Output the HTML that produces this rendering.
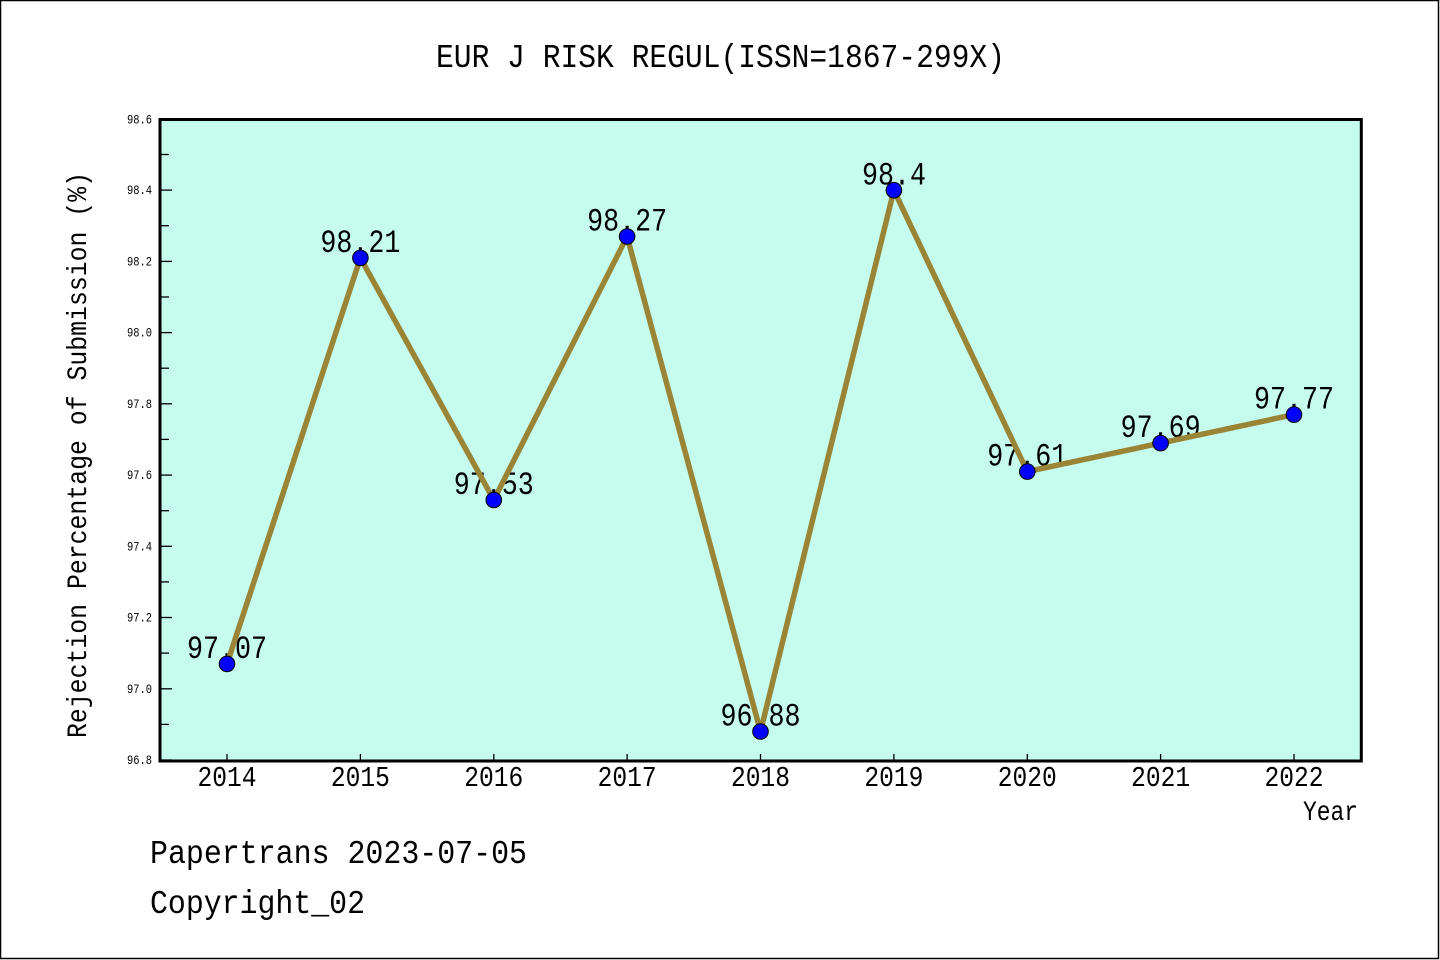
<!DOCTYPE html>
<html>
<head>
<meta charset="utf-8">
<style>
html,body{margin:0;padding:0;background:#fff;}
svg{display:block;}
text{font-family:"Liberation Mono","Noto Sans CJK SC",monospace;fill:#000;}
</style>
</head>
<body>
<svg width="1440" height="960" viewBox="0 0 1440 960" xmlns="http://www.w3.org/2000/svg">
<rect x="0.5" y="0.5" width="1438" height="958" fill="#fff" stroke="#000" stroke-width="1.5"/>
<!-- title -->
<text x="436" y="67" font-size="33" textLength="569" lengthAdjust="spacingAndGlyphs">EUR J RISK REGUL(ISSN=1867-299X)</text>
<!-- plot bg -->
<rect x="160" y="119.5" width="1201.3" height="641.5" fill="#c6fced"/>
<!-- y ticks -->
<g stroke="#000" stroke-width="1.3">
<line x1="160" y1="760" x2="172" y2="760"/>
<line x1="160" y1="724.4" x2="169" y2="724.4"/>
<line x1="160" y1="688.8" x2="172" y2="688.8"/>
<line x1="160" y1="653.1" x2="169" y2="653.1"/>
<line x1="160" y1="617.5" x2="172" y2="617.5"/>
<line x1="160" y1="581.9" x2="169" y2="581.9"/>
<line x1="160" y1="546.3" x2="172" y2="546.3"/>
<line x1="160" y1="510.7" x2="169" y2="510.7"/>
<line x1="160" y1="475.1" x2="172" y2="475.1"/>
<line x1="160" y1="439.4" x2="169" y2="439.4"/>
<line x1="160" y1="403.8" x2="172" y2="403.8"/>
<line x1="160" y1="368.2" x2="169" y2="368.2"/>
<line x1="160" y1="332.6" x2="172" y2="332.6"/>
<line x1="160" y1="297.0" x2="169" y2="297.0"/>
<line x1="160" y1="261.4" x2="172" y2="261.4"/>
<line x1="160" y1="225.7" x2="169" y2="225.7"/>
<line x1="160" y1="190.1" x2="172" y2="190.1"/>
<line x1="160" y1="154.5" x2="169" y2="154.5"/>
<line x1="160" y1="119.5" x2="172" y2="119.5"/>
</g>
<!-- x ticks -->
<g stroke="#000" stroke-width="1.3">
<line x1="227" y1="761" x2="227" y2="754"/>
<line x1="360.4" y1="761" x2="360.4" y2="754"/>
<line x1="493.8" y1="761" x2="493.8" y2="754"/>
<line x1="627.1" y1="761" x2="627.1" y2="754"/>
<line x1="760.5" y1="761" x2="760.5" y2="754"/>
<line x1="893.9" y1="761" x2="893.9" y2="754"/>
<line x1="1027.3" y1="761" x2="1027.3" y2="754"/>
<line x1="1160.6" y1="761" x2="1160.6" y2="754"/>
<line x1="1294" y1="761" x2="1294" y2="754"/>
</g>
<!-- frame -->
<rect x="160" y="119.5" width="1201.3" height="641.5" fill="none" stroke="#000" stroke-width="3"/>
<!-- y tick labels -->
<g font-size="12.5">
<text x="127" y="764" textLength="25" lengthAdjust="spacingAndGlyphs">96.8</text>
<text x="127" y="692.8" textLength="25" lengthAdjust="spacingAndGlyphs">97.0</text>
<text x="127" y="621.5" textLength="25" lengthAdjust="spacingAndGlyphs">97.2</text>
<text x="127" y="550.3" textLength="25" lengthAdjust="spacingAndGlyphs">97.4</text>
<text x="127" y="479.1" textLength="25" lengthAdjust="spacingAndGlyphs">97.6</text>
<text x="127" y="407.8" textLength="25" lengthAdjust="spacingAndGlyphs">97.8</text>
<text x="127" y="336.6" textLength="25" lengthAdjust="spacingAndGlyphs">98.0</text>
<text x="127" y="265.4" textLength="25" lengthAdjust="spacingAndGlyphs">98.2</text>
<text x="127" y="194.1" textLength="25" lengthAdjust="spacingAndGlyphs">98.4</text>
<text x="127" y="123.5" textLength="25" lengthAdjust="spacingAndGlyphs">98.6</text>
</g>
<!-- x tick labels -->
<g font-size="29">
<text x="197.5" y="786" textLength="59" lengthAdjust="spacingAndGlyphs">2014</text>
<text x="330.9" y="786" textLength="59" lengthAdjust="spacingAndGlyphs">2015</text>
<text x="464.3" y="786" textLength="59" lengthAdjust="spacingAndGlyphs">2016</text>
<text x="597.6" y="786" textLength="59" lengthAdjust="spacingAndGlyphs">2017</text>
<text x="731" y="786" textLength="59" lengthAdjust="spacingAndGlyphs">2018</text>
<text x="864.4" y="786" textLength="59" lengthAdjust="spacingAndGlyphs">2019</text>
<text x="997.8" y="786" textLength="59" lengthAdjust="spacingAndGlyphs">2020</text>
<text x="1131.1" y="786" textLength="59" lengthAdjust="spacingAndGlyphs">2021</text>
<text x="1264.5" y="786" textLength="59" lengthAdjust="spacingAndGlyphs">2022</text>
</g>
<text x="1303" y="820" font-size="28" textLength="55" lengthAdjust="spacingAndGlyphs">Year</text>
<!-- y label -->
<text transform="translate(86,455) rotate(-90)" x="-283" y="0" font-size="28" textLength="566" lengthAdjust="spacingAndGlyphs">Rejection Percentage of Submission (%)</text>
<!-- data labels -->
<g font-size="32">
<text x="187" y="658" textLength="80" lengthAdjust="spacingAndGlyphs">97.07</text>
<text x="320.4" y="252" textLength="80" lengthAdjust="spacingAndGlyphs">98.21</text>
<text x="453.8" y="494" textLength="80" lengthAdjust="spacingAndGlyphs">97.53</text>
<text x="587.1" y="230.5" textLength="80" lengthAdjust="spacingAndGlyphs">98.27</text>
<text x="720.5" y="725.5" textLength="80" lengthAdjust="spacingAndGlyphs">96.88</text>
<text x="862" y="184.5" textLength="64" lengthAdjust="spacingAndGlyphs">98.4</text>
<text x="987.3" y="465.5" textLength="80" lengthAdjust="spacingAndGlyphs">97.61</text>
<text x="1120.6" y="437" textLength="80" lengthAdjust="spacingAndGlyphs">97.69</text>
<text x="1254" y="408.5" textLength="80" lengthAdjust="spacingAndGlyphs">97.77</text>
</g>
<!-- line -->
<polyline fill="none" stroke="#9a8436" stroke-width="5.5" stroke-linejoin="miter"
points="227,663.9 360.4,257.9 493.8,500 627.1,236.5 760.5,731.5 893.9,190.2 1027.3,471.6 1160.6,443.1 1294,414.6"/>
<!-- markers -->
<g fill="#0000ff" stroke="#000" stroke-width="1">
<circle cx="227" cy="663.9" r="7.8"/>
<circle cx="360.4" cy="257.9" r="7.8"/>
<circle cx="493.8" cy="500" r="7.8"/>
<circle cx="627.1" cy="236.5" r="7.8"/>
<circle cx="760.5" cy="731.5" r="7.8"/>
<circle cx="893.9" cy="190.2" r="7.8"/>
<circle cx="1027.3" cy="471.6" r="7.8"/>
<circle cx="1160.6" cy="443.1" r="7.8"/>
<circle cx="1294" cy="414.6" r="7.8"/>
</g>
<!-- footer -->
<text x="150" y="863" font-size="33" textLength="377" lengthAdjust="spacingAndGlyphs">Papertrans 2023-07-05</text>
<text x="150" y="913" font-size="33" textLength="215" lengthAdjust="spacingAndGlyphs">Copyright_02</text>
</svg>
</body>
</html>
